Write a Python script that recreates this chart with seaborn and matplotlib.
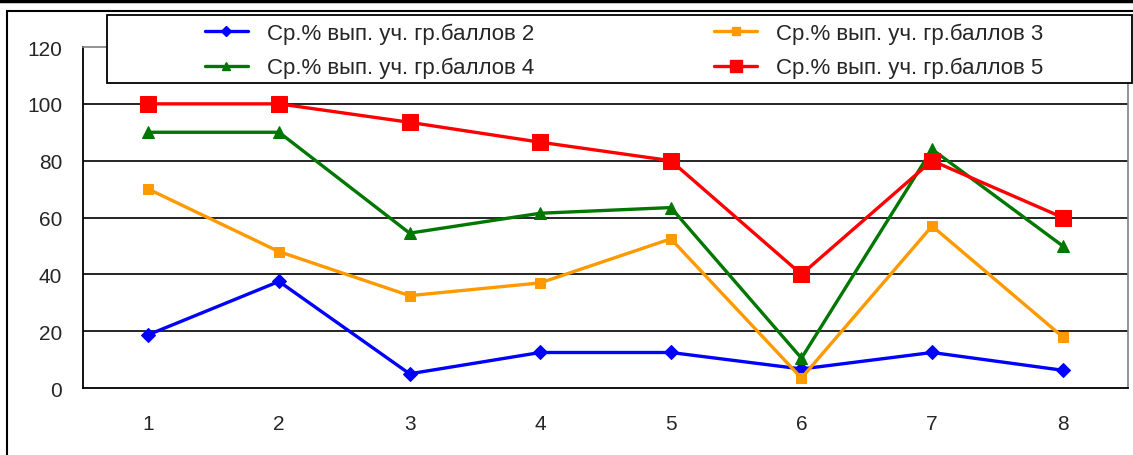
import seaborn as sns
import pandas as pd
import matplotlib.pyplot as plt
from matplotlib.patches import Rectangle
from matplotlib.lines import Line2D

# data
groups = [1, 2, 3, 4, 5, 6, 7, 8]
score2 = [18.75, 37.5, 5, 12.5, 12.5, 6.7, 12.5, 6.25]
score3 = [70, 48, 32.5, 37, 52.5, 3.5, 57, 18]
score4 = [90, 90, 54.5, 61.5, 63.5, 10.5, 84, 50]
score5 = [100, 100, 93.5, 86.5, 80, 40, 80, 60]
labels = ["Ср.% вып. уч. гр.баллов 2", "Ср.% вып. уч. гр.баллов 3",
          "Ср.% вып. уч. гр.баллов 4", "Ср.% вып. уч. гр.баллов 5"]
y_ticks = [0, 20, 40, 60, 80, 100, 120]

sns.set_style("white")
plt.rcParams['font.family'] = ['Liberation Sans', 'DejaVu Sans']

fig = plt.figure(figsize=(11.33, 4.56), dpi=100)
ax = fig.add_axes([0.0733, 0.1469, 0.9223, 0.7478])

# series styles
styles = [
    (score2, "#0000ff", "D", 7),
    (score3, "#ff9900", "s", 7),
    (score4, "#007700", "^", 8),
    (score5, "#ff0000", "s", 11),
]
handles = []
for (vals, col, mk, ms), lab in zip(styles, labels):
    df = pd.DataFrame({"group": groups, "value": vals})
    sns.lineplot(data=df, x="group", y="value", ax=ax, color=col, marker=mk,
                 markersize=ms, markeredgecolor=col, linewidth=2.4, legend=False)
    handles.append(Line2D([], [], color=col, marker=mk, markersize=ms * 0.75,
                          markeredgecolor=col, linewidth=2.4, label=lab))

ax.set_xlim(0.5, 8.5)
ax.set_ylim(0, 120)
ax.set_yticks(y_ticks)
ax.set_yticklabels([str(v) for v in y_ticks], fontsize=15)
ax.set_xticks([g + 0.5 for g in [0] + groups])
ax.set_xticklabels([])
ax.set_xticks(groups, minor=True)
ax.set_xticklabels([str(g) for g in groups], minor=True, fontsize=15)
ax.tick_params(axis="x", which="major", direction="out", length=6, width=1.2, color="black")
ax.tick_params(axis="x", which="minor", length=0, pad=19)
ax.tick_params(axis="y", direction="out", length=6, width=1.2, color="black", pad=9)
ax.set_xlabel("")
ax.set_ylabel("")

for v in y_ticks[1:-1]:
    ax.axhline(v, color="black", linewidth=1.2, zorder=0)

ax.spines["left"].set_color("black")
ax.spines["bottom"].set_color("black")
ax.spines["left"].set_linewidth(1.3)
ax.spines["bottom"].set_linewidth(1.3)
ax.spines["top"].set_color("#808080")
ax.spines["right"].set_color("#808080")
ax.spines["top"].set_linewidth(1.2)
ax.spines["right"].set_linewidth(1.2)

# outer frame and top rule
fig.add_artist(Line2D([0, 1], [0.996, 0.996], color="black", linewidth=2.5,
                      transform=fig.transFigure))
fig.add_artist(Rectangle((7 / 1133, -0.1), 1.2, 1.1 - 12 / 456, fill=False,
                         edgecolor="black", linewidth=1.5, transform=fig.transFigure))

# legend box
fig.add_artist(Rectangle((107 / 1133, 1 - 84 / 456), 1025 / 1133, 68 / 456,
                         facecolor="white", edgecolor="black", linewidth=1.3,
                         transform=fig.transFigure, zorder=5))
# row-wise order: 2, 3 / 4, 5
order = [0, 2, 1, 3]
leg = fig.legend(handles=[handles[i] for i in order], ncol=2, loc="center",
                 bbox_to_anchor=(624 / 1133, 1 - 51.5 / 456), frameon=False,
                 fontsize=16, handlelength=1.95, handletextpad=0.85,
                 columnspacing=8.1, labelspacing=0.6)
leg.set_zorder(6)

fig.savefig("out.png", dpi=100)
